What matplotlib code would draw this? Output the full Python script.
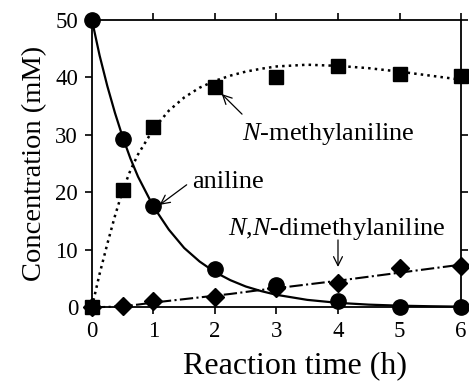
import matplotlib
matplotlib.use('Agg')
import matplotlib.pyplot as plt

plt.rcParams['font.family'] = ['Liberation Serif', 'DejaVu Serif']
plt.rcParams['mathtext.fontset'] = 'custom'
plt.rcParams['mathtext.rm'] = 'Liberation Serif'
plt.rcParams['mathtext.it'] = 'Liberation Serif:italic'

# measured points
t_pts = [0, 0.5, 1, 2, 3, 4, 5, 6]
aniline = [50, 29.2, 17.6, 6.6, 3.9, 1.0, 0.1, 0.1]
methyl = [0, 20.4, 31.3, 38.4, 40.1, 42.0, 40.6, 40.2]
dimethyl = [0, 0.2, 1.1, 1.8, 3.3, 4.2, 6.9, 7.2]

# fitted curves
t_fit = [0, 0.125, 0.25, 0.375, 0.5, 0.625, 0.75, 1, 1.25, 1.5, 1.75, 2,
         2.25, 2.5, 2.75, 3, 3.5, 4, 4.5, 5, 5.5, 6]
aniline_fit = [50, 43.8, 38.5, 33.8, 29.6, 25.9, 22.7, 17.5, 13.5, 10.3,
               7.95, 6.1, 4.7, 3.6, 2.8, 2.15, 1.27, 0.75, 0.44, 0.26, 0.16,
               0.09]
methyl_fit = [0, 5.8, 11.0, 15.9, 20.3, 23.8, 26.6, 31.0, 34.2, 36.5, 38.2,
              39.4, 40.3, 41.0, 41.5, 41.9, 42.2, 42.0, 41.6, 41.0, 40.3, 39.6]
dimethyl_fit = [0, 0.01, 0.05, 0.1, 0.2, 0.3, 0.45, 0.8, 1.1, 1.4, 1.7, 2.0,
                2.3, 2.65, 3.0, 3.3, 3.95, 4.6, 5.3, 6.0, 6.7, 7.4]

fig = plt.figure(figsize=(4.69, 3.83), dpi=100)
ax = fig.add_axes([0.196, 0.198, 0.787, 0.75])

ax.plot(t_fit, aniline_fit, '-', color='black', lw=1.6, clip_on=False)
ax.plot(t_fit, methyl_fit, ':', color='black', lw=1.8, clip_on=False)
ax.plot(t_fit, dimethyl_fit, '-.', color='black', lw=1.5, clip_on=False)

ax.plot(t_pts, dimethyl, 'D', color='black', ms=9.5, clip_on=False, zorder=4)
ax.plot(t_pts, methyl, 's', color='black', ms=10.5, clip_on=False, zorder=5)
ax.plot(t_pts, aniline, 'o', color='black', ms=11, clip_on=False, zorder=6)

ax.set_xlim(0, 6)
ax.set_ylim(0, 50)
ax.set_xticks(range(0, 7))
ax.set_yticks(range(0, 51, 10))
ax.tick_params(direction='out', length=5, width=1.2, labelsize=16.5,
               top=True, right=True, pad=5)
for s in ax.spines.values():
    s.set_linewidth(1.3)

ax.set_xlabel('Reaction time (h)', fontsize=23)
ax.xaxis.set_label_coords(0.55, -0.155)
ax.set_ylabel('Concentration (mM)', fontsize=20.5, labelpad=6)

arr = dict(arrowstyle='->', color='black', lw=0.9, mutation_scale=16,
           shrinkA=0, shrinkB=0)
ax.text(2.44, 29.1, '$\\mathit{N}$-methylaniline', fontsize=19,
        ha='left', va='baseline')
ax.annotate('', xy=(2.11, 37.1), xytext=(2.44, 33.6), arrowprops=arr)
ax.text(1.63, 20.7, 'aniline', fontsize=19, ha='left', va='baseline')
ax.annotate('', xy=(1.1, 17.8), xytext=(1.54, 21.3), arrowprops=arr)
ax.text(3.98, 12.5, '$\\mathit{N}$,$\\mathit{N}$-dimethylaniline',
        fontsize=19, ha='center', va='baseline')
ax.annotate('', xy=(4.0, 7.0), xytext=(4.0, 11.7), arrowprops=arr)

fig.savefig('out.png', dpi=100)
